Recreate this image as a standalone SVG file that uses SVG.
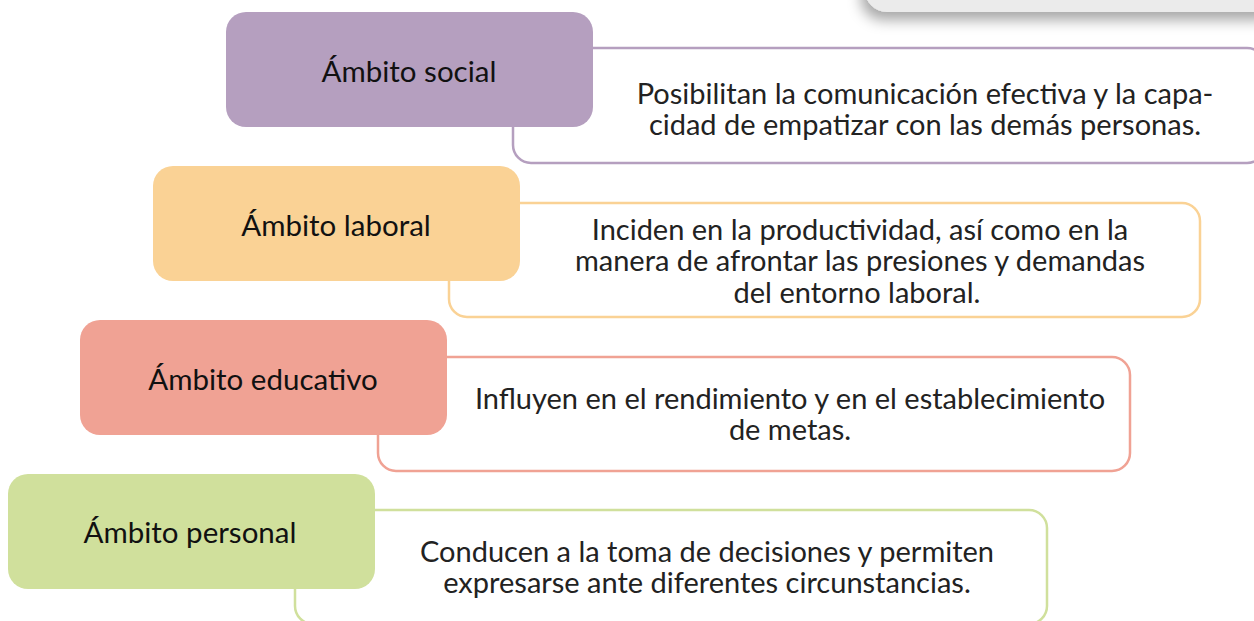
<svg xmlns="http://www.w3.org/2000/svg" width="1254" height="621" viewBox="0 0 1254 621">
<defs>
<filter id="sh" x="-20%" y="-50%" width="140%" height="250%">
<feDropShadow dx="-4" dy="8" stdDeviation="7" flood-color="#000" flood-opacity="0.35"/>
</filter>
</defs>
<style>
.lbl{font-family:Lato,"Liberation Sans",sans-serif;font-size:29.5px;fill:#111;text-anchor:middle}
.dsc{font-family:Lato,"Liberation Sans",sans-serif;font-size:29px;fill:#222;text-anchor:middle}
.box{fill:#fff;stroke-width:2.5}
</style>
<rect width="1254" height="621" fill="#fff"/>
<g id="panel">
<rect x="865" y="-60" width="420" height="72" rx="22" fill="#ebebeb" filter="url(#sh)"/>
</g>
<g id="social">
<rect class="box" x="513" y="48" width="752" height="115" rx="18" stroke="#b59fbf"/>
<rect x="226" y="12" width="367" height="115" rx="20" fill="#b59fbf"/>
<text class="lbl" x="409" y="82">Ámbito social</text>
<text class="dsc" x="925" y="104">Posibilitan la comunicación efectiva y la capa-</text>
<text class="dsc" x="925" y="135">cidad de empatizar con las demás personas.</text>
</g>
<g id="laboral">
<rect class="box" x="449" y="203" width="751" height="114" rx="18" stroke="#fad295"/>
<rect x="153" y="166" width="367" height="115" rx="20" fill="#fad295"/>
<text class="lbl" x="336" y="236">Ámbito laboral</text>
<text class="dsc" x="860" y="240">Inciden en la productividad, así como en la</text>
<text class="dsc" x="860" y="271">manera de afrontar las presiones y demandas</text>
<text class="dsc" x="857" y="303">del entorno laboral.</text>
</g>
<g id="educativo">
<rect class="box" x="378" y="357" width="752" height="114" rx="18" stroke="#f0a294"/>
<rect x="80" y="320" width="367" height="115" rx="20" fill="#f0a294"/>
<text class="lbl" x="263" y="390">Ámbito educativo</text>
<text class="dsc" x="790" y="409">Influyen en el rendimiento y en el establecimiento</text>
<text class="dsc" x="790" y="440">de metas.</text>
</g>
<g id="personal">
<rect class="box" x="295" y="510" width="752" height="114" rx="18" stroke="#d0e09c"/>
<rect x="8" y="474" width="367" height="115" rx="20" fill="#d0e09c"/>
<text class="lbl" x="190" y="543">Ámbito personal</text>
<text class="dsc" x="707" y="562">Conducen a la toma de decisiones y permiten</text>
<text class="dsc" x="707" y="593">expresarse ante diferentes circunstancias.</text>
</g>
<g id="connectors"/>
</svg>
